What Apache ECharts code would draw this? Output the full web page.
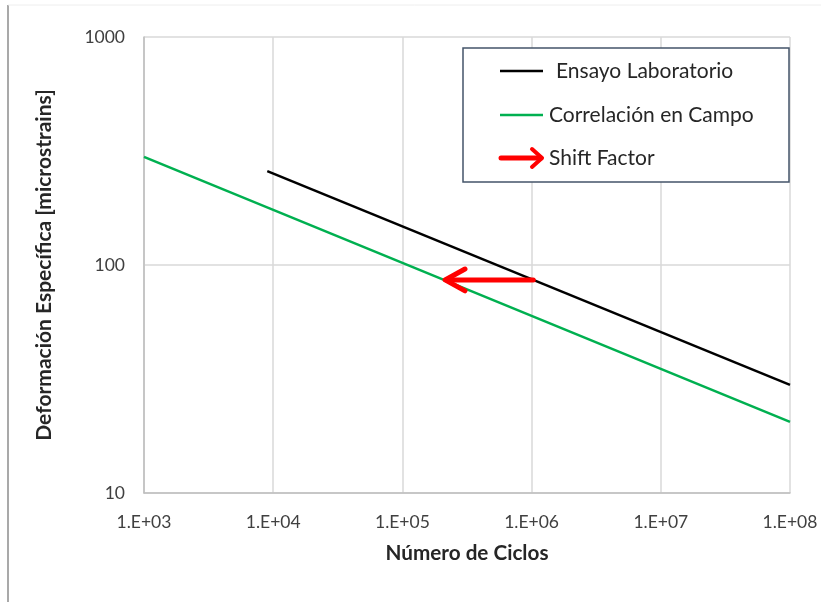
<!DOCTYPE html>
<html><head><meta charset="utf-8">
<script src="https://cdn.jsdelivr.net/npm/echarts@6/dist/echarts.min.js"></script>
<style>html,body{margin:0;padding:0;background:#fff}#c{width:821px;height:602px}</style>
</head><body><div id="c"></div>
<script>
const labSeries = [[9000, 258], [1e8, 29.8]];
const fieldSeries = [[1000, 298], [1e8, 20.5]];
const shiftShaft = [[1.03e6, 86], [2.2e5, 86]];
const shiftHead = [[3.05e5, 96], [2.14e5, 86], [3.05e5, 77]];
const xTicks = ['1.E+03','1.E+04','1.E+05','1.E+06','1.E+07','1.E+08'];
const yTicks = ['10','100','1000'];
const legendNames = ['Ensayo Laboratorio','Correlación en Campo','Shift Factor'];

const FONT = 'Lato, "Open Sans", sans-serif';
const chart = echarts.init(document.getElementById('c'));
chart.setOption({
  animation:false,
  backgroundColor:'#fff',
  grid:{left:144,right:31,top:37,bottom:109},
  xAxis:{type:'log',logBase:10,min:1000,max:1e8,
    axisLine:{lineStyle:{color:'#bfbfbf',width:1.5}},
    axisTick:{show:false},minorTick:{show:false},
    splitLine:{show:true,lineStyle:{color:'#d9d9d9',width:1.5}},
    axisLabel:{color:'#404040',fontFamily:FONT,fontSize:17.5,margin:20,
      formatter:v=>xTicks[Math.round(Math.log10(v))-3]},
    name:'Número de Ciclos',nameLocation:'middle',nameGap:50,
    nameTextStyle:{color:'#262626',fontFamily:FONT,fontSize:20.7,fontWeight:'bold'}},
  yAxis:{type:'log',logBase:10,min:10,max:1000,
    axisLine:{show:true,lineStyle:{color:'#bfbfbf',width:1.5}},
    axisTick:{show:false},
    splitLine:{show:true,lineStyle:{color:'#d9d9d9',width:1.5}},
    axisLabel:{color:'#404040',fontFamily:FONT,fontSize:17.5,margin:19,
      formatter:v=>yTicks[Math.round(Math.log10(v))-1]},
    name:'Deformación Específica [microstrains]',nameLocation:'middle',nameGap:89,
    nameTextStyle:{color:'#262626',fontFamily:FONT,fontSize:21,fontWeight:'bold'}},
  series:[
    {name:legendNames[0],type:'line',data:labSeries,symbol:'none',lineStyle:{color:'#000',width:2.5}},
    {name:legendNames[1],type:'line',data:fieldSeries,symbol:'none',lineStyle:{color:'#00b050',width:2.5}},
    {name:legendNames[2],type:'line',data:shiftShaft,symbol:'none',lineStyle:{color:'#ff0000',width:5,cap:'round'},z:5},
    {name:legendNames[2]+' head',type:'line',data:shiftHead,symbol:'none',lineStyle:{color:'#ff0000',width:5,cap:'round',join:'round'},z:5}
  ],
  graphic:[
    {type:'line',shape:{x1:8,y1:5,x2:8,y2:602},style:{stroke:'#8c8c8c',lineWidth:1.5}},
    {type:'line',shape:{x1:8,y1:5,x2:821,y2:5},style:{stroke:'#eeeeee',lineWidth:1}},
    {type:'rect',shape:{x:463,y:48,width:326,height:134},style:{fill:'#fff',stroke:'#44546a',lineWidth:1.5},z:10},
    {type:'line',shape:{x1:500,y1:71,x2:543,y2:71},style:{stroke:'#000',lineWidth:2.5},z:11},
    {type:'text',x:556,y:71,style:{text:legendNames[0],fill:'#262626',font:'21px '+FONT,textVerticalAlign:'middle'},z:11},
    {type:'line',shape:{x1:500,y1:115,x2:543,y2:115},style:{stroke:'#00b050',lineWidth:2.5},z:11},
    {type:'text',x:549,y:115,style:{text:legendNames[1],fill:'#262626',font:'21px '+FONT,textVerticalAlign:'middle'},z:11},
    {type:'polyline',shape:{points:[[501,158],[541,158]]},style:{stroke:'#ff0000',lineWidth:5,lineCap:'round'},z:11},
    {type:'polyline',shape:{points:[[532,149],[542,158],[532,167]]},style:{stroke:'#ff0000',fill:null,lineWidth:4,lineCap:'round',lineJoin:'round'},z:11},
    {type:'text',x:549,y:158,style:{text:legendNames[2],fill:'#262626',font:'21px '+FONT,textVerticalAlign:'middle'},z:11}
  ]
});
</script></body></html>
